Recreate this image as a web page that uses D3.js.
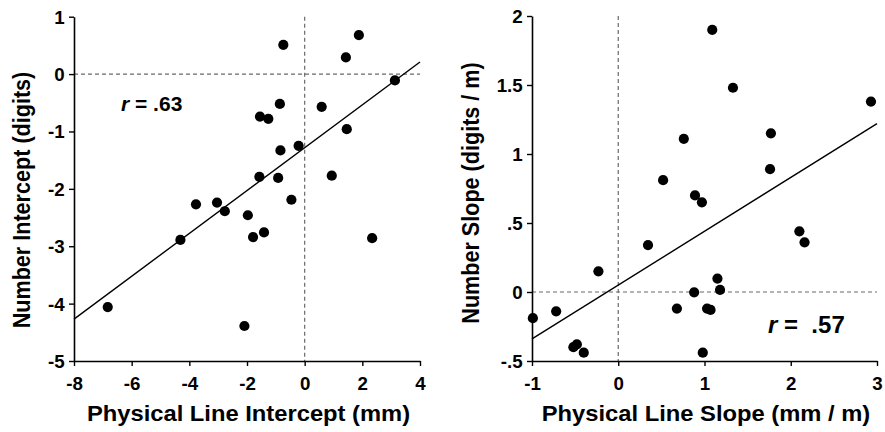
<!DOCTYPE html>
<html><head><meta charset="utf-8">
<script src="https://cdn.jsdelivr.net/npm/d3@7"></script>
<style>
html,body{margin:0;padding:0;background:#fff;}
svg text{font-family:"Liberation Sans",Arial,sans-serif;font-weight:bold;fill:#000;}
</style></head>
<body>
<svg id="chart" width="885" height="432"></svg>
<script>
// Left panel: intercepts
const interceptX = [-0.74, 1.88, 1.43, 3.13, -0.86, 0.59, -1.55, -1.26, 1.46, -0.21, -0.84, -1.57, -0.92, 0.94, -0.46, -3.77, -3.04, -2.77, -1.97, -1.41, -1.79, -4.31, 2.34, -6.83, -2.09];
const interceptY = [0.51, 0.68, 0.29, -0.11, -0.52, -0.57, -0.74, -0.78, -0.96, -1.25, -1.33, -1.79, -1.81, -1.77, -2.19, -2.27, -2.24, -2.39, -2.46, -2.76, -2.84, -2.89, -2.86, -4.06, -4.39];
const interceptFit = [[-8, -4.27], [4, 0.21]];
const interceptXTicks = [-8, -6, -4, -2, 0, 2, 4];
const interceptYTicks = [1, 0, -1, -2, -3, -4, -5];

// Right panel: slopes
const slopeX = [1.09, 1.33, 2.93, 0.76, 1.77, 1.76, 0.52, 0.89, 0.97, 2.10, 2.16, 0.345, -0.23, 1.15, 1.18, 0.88, 0.68, 1.03, 1.07, -0.99, -0.72, -0.52, -0.48, -0.40, 0.98];
const slopeY = [1.90, 1.48, 1.38, 1.11, 1.15, 0.89, 0.81, 0.70, 0.65, 0.44, 0.36, 0.34, 0.15, 0.097, 0.015, -0.002, -0.12, -0.12, -0.13, -0.19, -0.14, -0.40, -0.38, -0.44, -0.44];
const slopeFit = [[-1, -0.34], [3, 1.22]];
const slopeXTicks = [-1, 0, 1, 2, 3];
const slopeYTicks = [2, 1.5, 1, 0.5, 0, -0.5];
const slopeYLabels = ["2", "1.5", "1", ".5", "0", "-.5"];

const svg = d3.select("#chart");
const SX = 1.1;   // horizontal stretch of the original figure's titles
const TSX = 1.04; // horizontal stretch of tick labels

function panel(cfg) {
  const x = d3.scaleLinear().domain(cfg.xDomain).range(cfg.xRange);
  const y = d3.scaleLinear().domain(cfg.yDomain).range(cfg.yRange);
  const g = svg.append("g");

  // dashed reference lines
  g.append("line")
    .attr("x1", x(0)).attr("x2", x(0))
    .attr("y1", y(cfg.yDomain[1])).attr("y2", y(cfg.yDomain[0]))
    .attr("stroke", "#6a6a6a").attr("stroke-width", 1.2).attr("stroke-dasharray", "4,3");
  g.append("line")
    .attr("x1", x(cfg.xDomain[0])).attr("x2", x(cfg.xDomain[1]))
    .attr("y1", y(0)).attr("y2", y(0))
    .attr("stroke", "#6a6a6a").attr("stroke-width", 1.2).attr("stroke-dasharray", "4,3");

  // axes
  const xAxis = d3.axisBottom(x).tickValues(cfg.xTicks).tickSize(5).tickSizeOuter(0).tickPadding(11)
    .tickFormat(d => String(d));
  const yAxis = d3.axisLeft(y).tickValues(cfg.yTicks).tickSize(5).tickSizeOuter(0).tickPadding(4)
    .tickFormat((d, i) => cfg.yLabels ? cfg.yLabels[i] : String(d));
  const gx = g.append("g").attr("transform", `translate(0,${cfg.yRange[0]})`).call(xAxis);
  const gy = g.append("g").attr("transform", `translate(${cfg.xRange[0]},0)`).call(yAxis);
  [gx, gy].forEach(a => {
    a.select(".domain").attr("stroke", "#000").attr("stroke-width", 1.6);
    a.selectAll(".tick line").attr("stroke", "#000").attr("stroke-width", 1.4);
    a.selectAll(".tick text").attr("font-size", 18).attr("fill", "#000")
      .style("font-family", '"Liberation Sans",Arial,sans-serif').style("font-weight", "bold");
  });
  gx.selectAll(".tick text").attr("transform", `scale(${TSX},1)`);
  gy.selectAll(".tick text").attr("x", 0).attr("dy", "0.36em")
    .attr("transform", `translate(-9.3,0) scale(${TSX},1)`);

  // regression line
  g.append("line")
    .attr("x1", x(cfg.fit[0][0])).attr("y1", y(cfg.fit[0][1]))
    .attr("x2", x(cfg.fit[1][0])).attr("y2", y(cfg.fit[1][1]))
    .attr("stroke", "#000").attr("stroke-width", 1.4);

  // points
  g.selectAll("circle.pt").data(cfg.xs.map((v, i) => [v, cfg.ys[i]])).enter()
    .append("circle").attr("class", "pt")
    .attr("cx", d => x(d[0])).attr("cy", d => y(d[1])).attr("r", 5.1).attr("fill", "#000");

  // titles
  g.append("text").attr("transform", `translate(${cfg.xTitlePos[0]},${cfg.xTitlePos[1]}) scale(${SX},1)`)
    .attr("text-anchor", "middle").attr("font-size", 21.6).text(cfg.xTitle);
  g.append("text").attr("transform", `translate(${cfg.yTitlePos[0]},${cfg.yTitlePos[1]}) scale(${SX},1) rotate(-90)`)
    .attr("text-anchor", "middle").attr("font-size", 21.6).text(cfg.yTitle);

  // r label
  const t = g.append("text").attr("x", cfg.rPos[0]).attr("y", cfg.rPos[1])
    .attr("font-size", cfg.rSize).style("white-space", "pre");
  t.append("tspan").attr("font-style", "italic").text("r");
  t.append("tspan").text(cfg.rText);
}

panel({
  xs: interceptX, ys: interceptY, fit: interceptFit,
  xDomain: [-8, 4], yDomain: [-5, 1], xRange: [74, 420], yRange: [361, 16.7],
  xTicks: interceptXTicks, yTicks: interceptYTicks,
  xTitle: "Physical Line Intercept (mm)", yTitle: "Number Intercept (digits)",
  xTitlePos: [248.5, 421], yTitlePos: [30, 200],
  rPos: [121, 111], rSize: 21, rText: " = .63"
});

panel({
  xs: slopeX, ys: slopeY, fit: slopeFit,
  xDomain: [-1, 3], yDomain: [-0.5, 2], xRange: [532, 877], yRange: [361, 16],
  xTicks: slopeXTicks, yTicks: slopeYTicks, yLabels: slopeYLabels,
  xTitle: "Physical Line Slope (mm / m)", yTitle: "Number Slope (digits / m)",
  xTitlePos: [706, 421], yTitlePos: [479, 193],
  rPos: [768, 333], rSize: 24, rText: " =  .57"
});
</script>
</body></html>
